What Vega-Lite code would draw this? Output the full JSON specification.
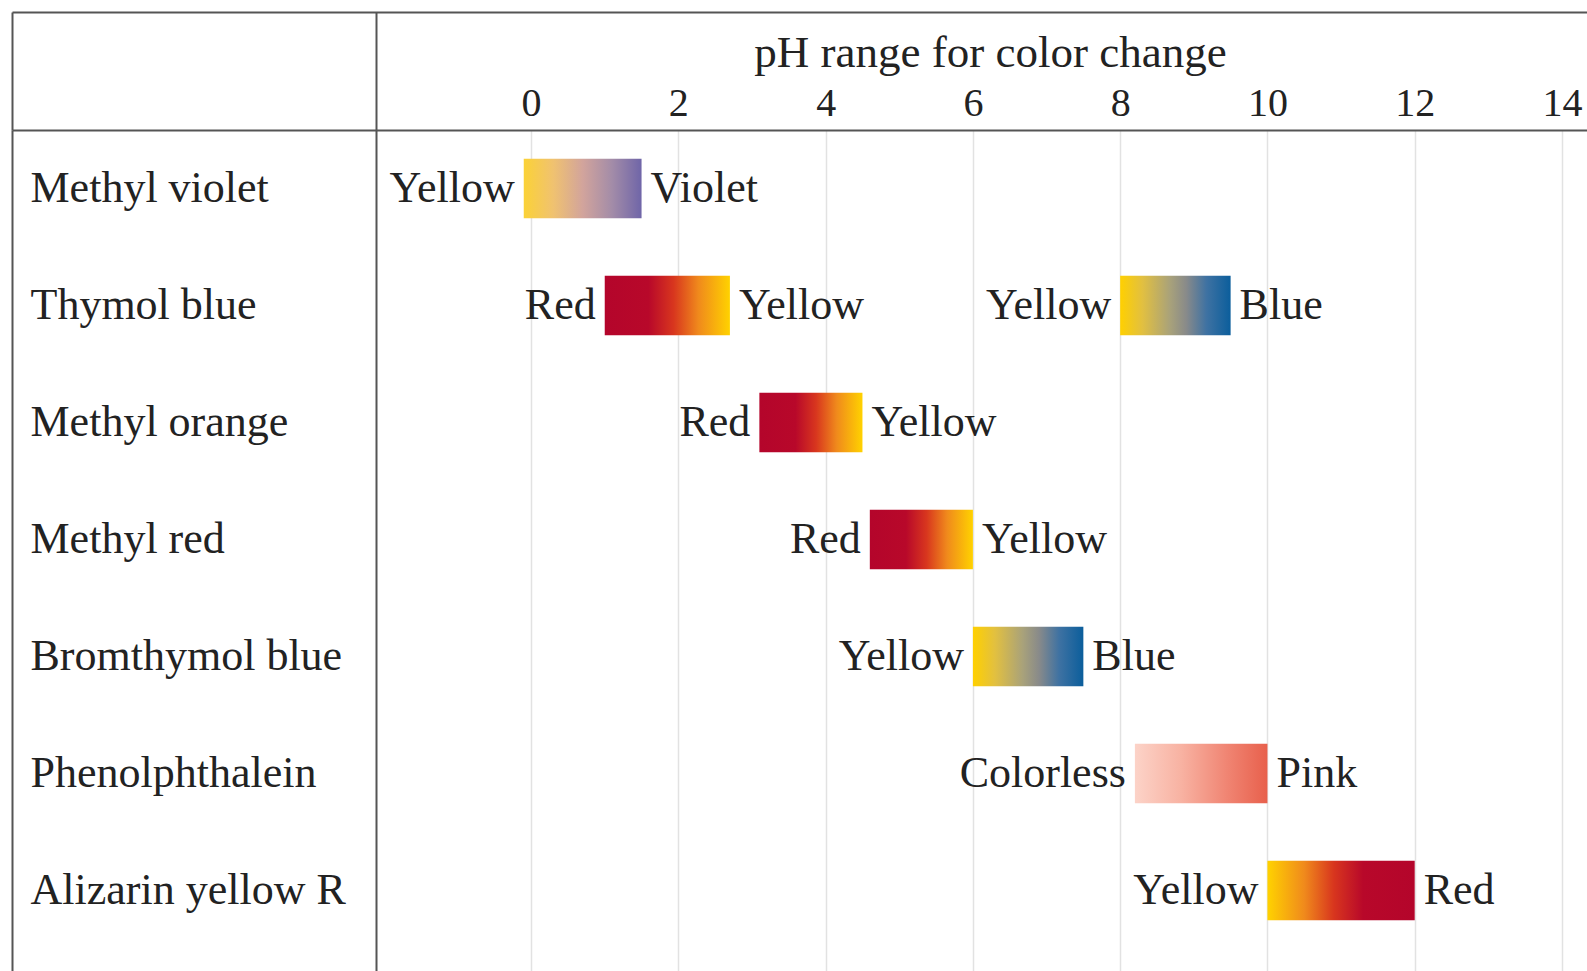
{
  "$schema": "https://vega.github.io/schema/vega-lite/v6.json",
  "autosize": {"type": "none"},
  "padding": {"left": 12, "top": 130, "right": 0, "bottom": 0},
  "width": 1575,
  "height": 841,
  "background": "white",
  "config": {"view": {"stroke": null}},
  "data": {
    "values": [
      {"indicator": "Methyl violet", "start": -0.1, "end": 1.5, "from": "Yellow", "to": "Violet"},
      {"indicator": "Thymol blue", "start": 1.0, "end": 2.7, "from": "Red", "to": "Yellow"},
      {"indicator": "Thymol blue", "start": 8.0, "end": 9.5, "from": "Yellow", "to": "Blue"},
      {"indicator": "Methyl orange", "start": 3.1, "end": 4.5, "from": "Red", "to": "Yellow"},
      {"indicator": "Methyl red", "start": 4.6, "end": 6.0, "from": "Red", "to": "Yellow"},
      {"indicator": "Bromthymol blue", "start": 6.0, "end": 7.5, "from": "Yellow", "to": "Blue"},
      {"indicator": "Phenolphthalein", "start": 8.2, "end": 10.0, "from": "Colorless", "to": "Pink"},
      {"indicator": "Alizarin yellow R", "start": 10.0, "end": 12.0, "from": "Yellow", "to": "Red"}
    ]
  },
  "encoding": {
    "y": {
      "field": "indicator", "type": "nominal",
      "scale": {
        "domain": ["Methyl violet", "Thymol blue", "Methyl orange", "Methyl red", "Bromthymol blue", "Phenolphthalein", "Alizarin yellow R"],
        "paddingInner": 0, "paddingOuter": 0.094, "align": 0
      },
      "axis": {
        "title": null,
        "domain": false,
        "ticks": false,
        "labelAlign": "left",
        "labelBaseline": "middle",
        "labelPadding": -18,
        "labelLimit": 0,
        "labelFont": "Liberation Serif",
        "labelFontSize": 44,
        "labelColor": "#222222",
        "grid": true,
        "bandPosition": 0,
        "gridWidth": 2,
        "gridColor": {"condition": {"test": "datum.value === 'Methyl violet'", "value": "#555555"}, "value": "rgba(0,0,0,0)"}
      }
    }
  },
  "layer": [
    {
      "mark": {"type": "bar", "height": {"band": 0.51}},
      "encoding": {
        "x": {
          "field": "start", "type": "quantitative",
          "scale": {"domain": [-7.05, 14.34], "nice": false, "zero": false},
          "axis": {
            "orient": "top",
            "offset": 118,
            "values": [-7.05, -2.1, 0, 2, 4, 6, 8, 10, 12, 14],
            "format": "d",
            "labelExpr": "datum.value < -1 ? '' : datum.label",
            "labelFont": "Liberation Serif",
            "labelFontSize": 40,
            "labelColor": "#222222",
            "labelBaseline": "alphabetic",
            "labelPadding": 15,
            "labelFlush": false,
            "labelOverlap": false,
            "labelBound": false,
            "domain": true,
            "domainColor": "#555555",
            "domainWidth": 2,
            "ticks": true,
            "tickSize": -118,
            "tickWidth": 2,
            "tickColor": {"condition": {"test": "datum.value < -1", "value": "#555555"}, "value": "rgba(0,0,0,0)"},
            "grid": true,
            "gridColor": {"condition": {"test": "datum.value < -1", "value": "#555555"}, "value": "#e2e2e2"},
            "gridWidth": {"condition": {"test": "datum.value < -1", "value": 2}, "value": 1.5},
            "title": "pH range for color change",
            "titleFont": "Liberation Serif",
            "titleFontSize": 45,
            "titleFontWeight": "normal",
            "titleColor": "#222222",
            "titleX": 978,
            "titleY": 54,
            "titleAlign": "center",
            "titleBaseline": "alphabetic"
          }
        },
        "x2": {"field": "end"},
        "fill": {
          "condition": [
            {"test": "datum.to === 'Violet'", "value": {"gradient": "linear", "stops": [
              {"offset": 0, "color": "#fbd236"}, {"offset": 0.25, "color": "#f0c270"},
              {"offset": 0.5, "color": "#d2a49c"}, {"offset": 0.75, "color": "#a38ca8"}, {"offset": 1, "color": "#6f65a8"}]}},
            {"test": "datum.from === 'Red'", "value": {"gradient": "linear", "stops": [
              {"offset": 0, "color": "#b4052b"}, {"offset": 0.35, "color": "#b8082a"},
              {"offset": 0.55, "color": "#d8361e"}, {"offset": 0.75, "color": "#f08a1c"}, {"offset": 1, "color": "#ffd200"}]}},
            {"test": "datum.to === 'Blue'", "value": {"gradient": "linear", "stops": [
              {"offset": 0, "color": "#ffd000"}, {"offset": 0.2, "color": "#e2c040"},
              {"offset": 0.45, "color": "#a9a27a"}, {"offset": 0.6, "color": "#888a8a"},
              {"offset": 0.78, "color": "#3f72a2"}, {"offset": 1, "color": "#0b5e9c"}]}},
            {"test": "datum.from === 'Colorless'", "value": {"gradient": "linear", "stops": [
              {"offset": 0, "color": "#fcd3c8"}, {"offset": 0.35, "color": "#f8b2a2"},
              {"offset": 0.7, "color": "#f08472"}, {"offset": 1, "color": "#e8604c"}]}}
          ],
          "value": {"gradient": "linear", "stops": [
            {"offset": 0, "color": "#ffd200"}, {"offset": 0.25, "color": "#f08a1c"},
            {"offset": 0.45, "color": "#d8361e"}, {"offset": 0.65, "color": "#b8082a"}, {"offset": 1, "color": "#b4052b"}]}
        }
      }
    },
    {
      "mark": {"type": "text", "align": "right", "baseline": "middle", "dx": -9, "font": "Liberation Serif", "fontSize": 44, "color": "#222222"},
      "encoding": {
        "x": {"field": "start", "type": "quantitative"},
        "text": {"field": "from"}
      }
    },
    {
      "mark": {"type": "text", "align": "left", "baseline": "middle", "dx": 9, "font": "Liberation Serif", "fontSize": 44, "color": "#222222"},
      "encoding": {
        "x": {"field": "end", "type": "quantitative"},
        "text": {"field": "to"}
      }
    }
  ]
}
